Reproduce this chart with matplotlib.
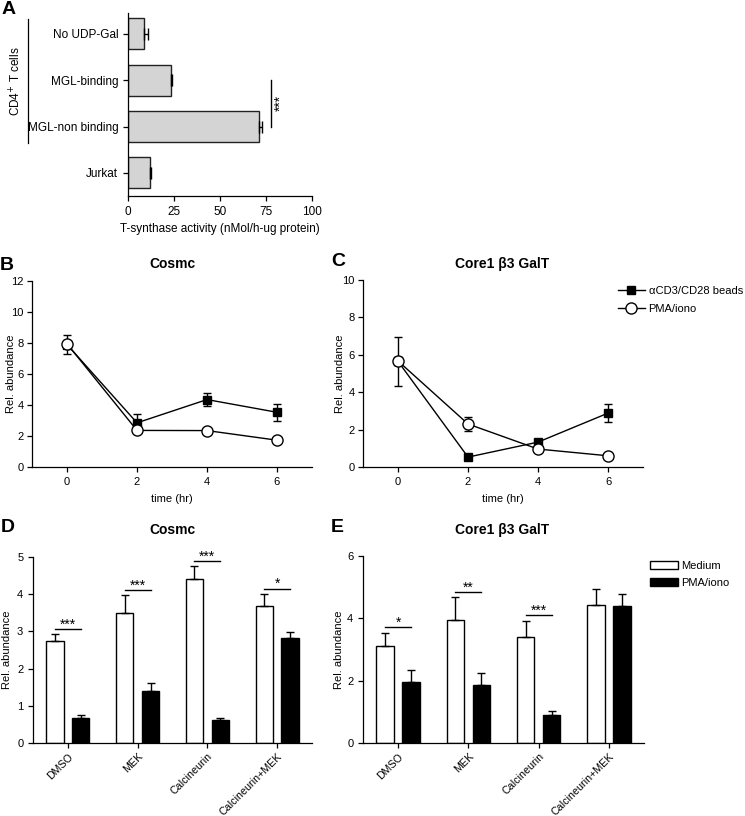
import matplotlib
matplotlib.use('Agg')
import matplotlib.pyplot as plt
import numpy as np
from matplotlib.lines import Line2D

plt.rcParams['font.family'] = ['Liberation Sans', 'DejaVu Sans']
plt.rcParams['axes.linewidth'] = 0.9
plt.rcParams['xtick.major.width'] = 0.9
plt.rcParams['ytick.major.width'] = 0.9
plt.rcParams['xtick.major.size'] = 3.5
plt.rcParams['ytick.major.size'] = 3.5

# ---------------- data ----------------
a_labels = ['No UDP-Gal', 'MGL-binding', 'MGL-non binding', 'Jurkat']
a_values = [8.9, 23.2, 71.0, 12.1]
a_err = [2.1, 0.9, 2.0, 0.5]

time_hr = [0, 2, 4, 6]
b_beads = [7.9, 2.85, 4.35, 3.53]
b_beads_err = [0.6, 0.58, 0.43, 0.55]
b_pma = [7.95, 2.36, 2.35, 1.73]
b_pma_err = [0.2, 0.1, 0.1, 0.1]

c_beads = [5.65, 0.53, 1.33, 2.88]
c_beads_err = [1.3, 0.08, 0.1, 0.49]
c_pma = [5.67, 2.30, 0.96, 0.60]
c_pma_err = [0.2, 0.37, 0.08, 0.05]

groups = ['DMSO', 'MEK', 'Calcineurin', 'Calcineurin+MEK']
d_medium = [2.74, 3.50, 4.42, 3.68]
d_medium_err = [0.18, 0.48, 0.34, 0.32]
d_pma = [0.68, 1.40, 0.63, 2.82]
d_pma_err = [0.08, 0.20, 0.03, 0.16]
d_sig = ['***', '***', '***', '*']
d_sig_y = [3.06, 4.10, 4.89, 4.15]

e_medium = [3.11, 3.94, 3.40, 4.43]
e_medium_err = [0.43, 0.74, 0.51, 0.52]
e_pma = [1.95, 1.86, 0.91, 4.40]
e_pma_err = [0.38, 0.40, 0.11, 0.39]
e_sig = ['*', '**', '***']
e_sig_y = [3.71, 4.85, 4.11]

W, H = 745, 816
fig = plt.figure(figsize=(W / 100, H / 100), dpi=100)


def ax_px(l, t, r, b):
    return fig.add_axes([l / W, 1 - b / H, (r - l) / W, (b - t) / H])


def fx(x):
    return x / W


def fy(y):
    return 1 - y / H


def style(ax):
    ax.spines['top'].set_visible(False)
    ax.spines['right'].set_visible(False)
    ax.tick_params(direction='out', colors='black')


# ---------------- Panel A ----------------
axA = ax_px(128, 13, 312, 196)
style(axA)
ypos = np.arange(len(a_labels))[::-1]
axA.barh(ypos, a_values, height=0.67, color='#d4d4d4', edgecolor='#222222', linewidth=1.0,
         xerr=[np.zeros(len(a_err)), a_err],
         error_kw=dict(ecolor='black', elinewidth=1.0, capsize=4.5, capthick=1.0))
axA.set_xlim(0, 100)
axA.set_ylim(-0.5, 3.45)
axA.set_xticks([0, 25, 50, 75, 100])
axA.set_yticks(ypos)
axA.set_yticklabels(a_labels, fontsize=8.5)
axA.tick_params(axis='x', labelsize=8.5)
axA.set_xlabel('T-synthase activity (nMol/h-ug protein)', fontsize=8.5, labelpad=4)
# significance bracket between MGL-binding and MGL-non binding
axA.plot([77.7, 77.7], [ypos[1], ypos[2]], color='black', lw=1.0, clip_on=False)
axA.text(83.0, (ypos[1] + ypos[2]) / 2, '***', rotation=90, ha='center', va='center', fontsize=10)
# CD4+ T cells bracket
fig.add_artist(Line2D([fx(28), fx(28)], [fy(19), fy(143)], color='black', lw=0.9))
fig.text(fx(16), fy(81), 'CD4$^{+}$ T cells', rotation=90, ha='center', va='center', fontsize=8.5)

# ---------------- Panels B & C ----------------
def line_panel(ax, beads, beads_err, pma, pma_err, ymax, ystep, ylab_x):
    style(ax)
    ax.errorbar(time_hr, beads, yerr=beads_err, color='black', lw=1.0, capsize=3, capthick=1.0,
                marker='s', markersize=5.5, markerfacecolor='black', markeredgecolor='black', zorder=3)
    ax.errorbar(time_hr, pma, yerr=pma_err, color='black', lw=1.0, capsize=3, capthick=1.0,
                marker='o', markersize=8, markerfacecolor='white', markeredgecolor='black',
                markeredgewidth=1.0, zorder=4)
    ax.set_xlim(-1, 7)
    ax.set_ylim(0, ymax)
    ax.set_xticks(time_hr)
    ax.set_yticks(np.arange(0, ymax + 0.01, ystep))
    ax.tick_params(labelsize=8)
    ax.tick_params(axis='y', pad=2.5)
    ax.set_xlabel('time (hr)', fontsize=8, labelpad=5)
    ax.set_ylabel('Rel. abundance', fontsize=8)
    ax.yaxis.set_label_coords(ylab_x, 0.5)


axB = ax_px(32, 281, 312, 467)
line_panel(axB, b_beads, b_beads_err, b_pma, b_pma_err, 12, 2, -0.058)
axC = ax_px(363, 280, 643, 467)
line_panel(axC, c_beads, c_beads_err, c_pma, c_pma_err, 10, 2, -0.063)
leg_handles = [
    Line2D([], [], color='black', lw=1.0, marker='s', markersize=5.5,
           markerfacecolor='black', markeredgecolor='black'),
    Line2D([], [], color='black', lw=1.0, marker='o', markersize=8,
           markerfacecolor='white', markeredgecolor='black'),
]
axC.legend(leg_handles, ['\u03b1CD3/CD28 beads', 'PMA/iono'], loc='upper left',
           bbox_to_anchor=(fx(618), fy(286)), bbox_transform=fig.transFigure,
           frameon=False, fontsize=8, handlelength=2.4, handletextpad=0.35, labelspacing=0.75,
           borderaxespad=0, borderpad=0)

fig.text(fx(172), fy(264), 'Cosmc', ha='center', va='center', fontsize=10, weight='bold')
fig.text(fx(502), fy(264), 'Core1 \u03b23 GalT', ha='center', va='center', fontsize=10, weight='bold')

# ---------------- Panels D & E ----------------
def bar_panel(ax, med, med_err, pma, pma_err, ymax, ystep, sig, sig_y, ylab_x):
    style(ax)
    x = np.arange(len(groups))
    off, w = 0.185, 0.25
    ekw = dict(ecolor='black', elinewidth=1.0, capsize=3, capthick=1.0)
    ax.bar(x - off, med, width=w, color='white', edgecolor='black', linewidth=1.0,
           yerr=[np.zeros(len(med)), med_err], error_kw=ekw, label='Medium')
    ax.bar(x + off, pma, width=w, color='black', edgecolor='black', linewidth=1.0,
           yerr=[np.zeros(len(pma)), pma_err], error_kw=ekw, label='PMA/iono')
    for i, (s, yv) in enumerate(zip(sig, sig_y)):
        ax.plot([x[i] - off, x[i] + off], [yv, yv], color='black', lw=1.0)
        ax.annotate(s, (x[i], yv), xytext=(0, 0.3), textcoords='offset points',
                    ha='center', va='baseline', fontsize=10)
    ax.set_xlim(-0.5, 3.5)
    ax.set_ylim(0, ymax)
    ax.set_xticks(x)
    ax.set_xticklabels(groups, rotation=45, ha='right', rotation_mode='anchor', fontsize=7.7)
    ax.tick_params(axis='x', pad=2.5)
    ax.set_yticks(np.arange(0, ymax + 0.01, ystep))
    ax.tick_params(axis='y', labelsize=8)
    ax.set_ylabel('Rel. abundance', fontsize=8)
    ax.yaxis.set_label_coords(ylab_x, 0.5)


axD = ax_px(33, 557, 312, 743)
bar_panel(axD, d_medium, d_medium_err, d_pma, d_pma_err, 5, 1, d_sig, d_sig_y, -0.074)
axE = ax_px(363, 556, 644, 743)
bar_panel(axE, e_medium, e_medium_err, e_pma, e_pma_err, 6, 2, e_sig, e_sig_y, -0.0665)
axE.legend(loc='upper left', bbox_to_anchor=(fx(650), fy(561)), bbox_transform=fig.transFigure,
           frameon=False, fontsize=8, handlelength=2.5, handleheight=0.75, handletextpad=0.3,
           labelspacing=0.6, borderaxespad=0, borderpad=0)

fig.text(fx(172), fy(530), 'Cosmc', ha='center', va='center', fontsize=10, weight='bold')
fig.text(fx(502), fy(530), 'Core1 \u03b23 GalT', ha='center', va='center', fontsize=10, weight='bold')

# panel letters
for letter, (px, py) in zip('ABCDE', [(9, 9), (7, 265), (338, 262), (8, 528), (337, 527)]):
    fig.text(fx(px), fy(py), letter, ha='center', va='center', fontsize=14, weight='bold')

fig.savefig('out.png', dpi=100)
